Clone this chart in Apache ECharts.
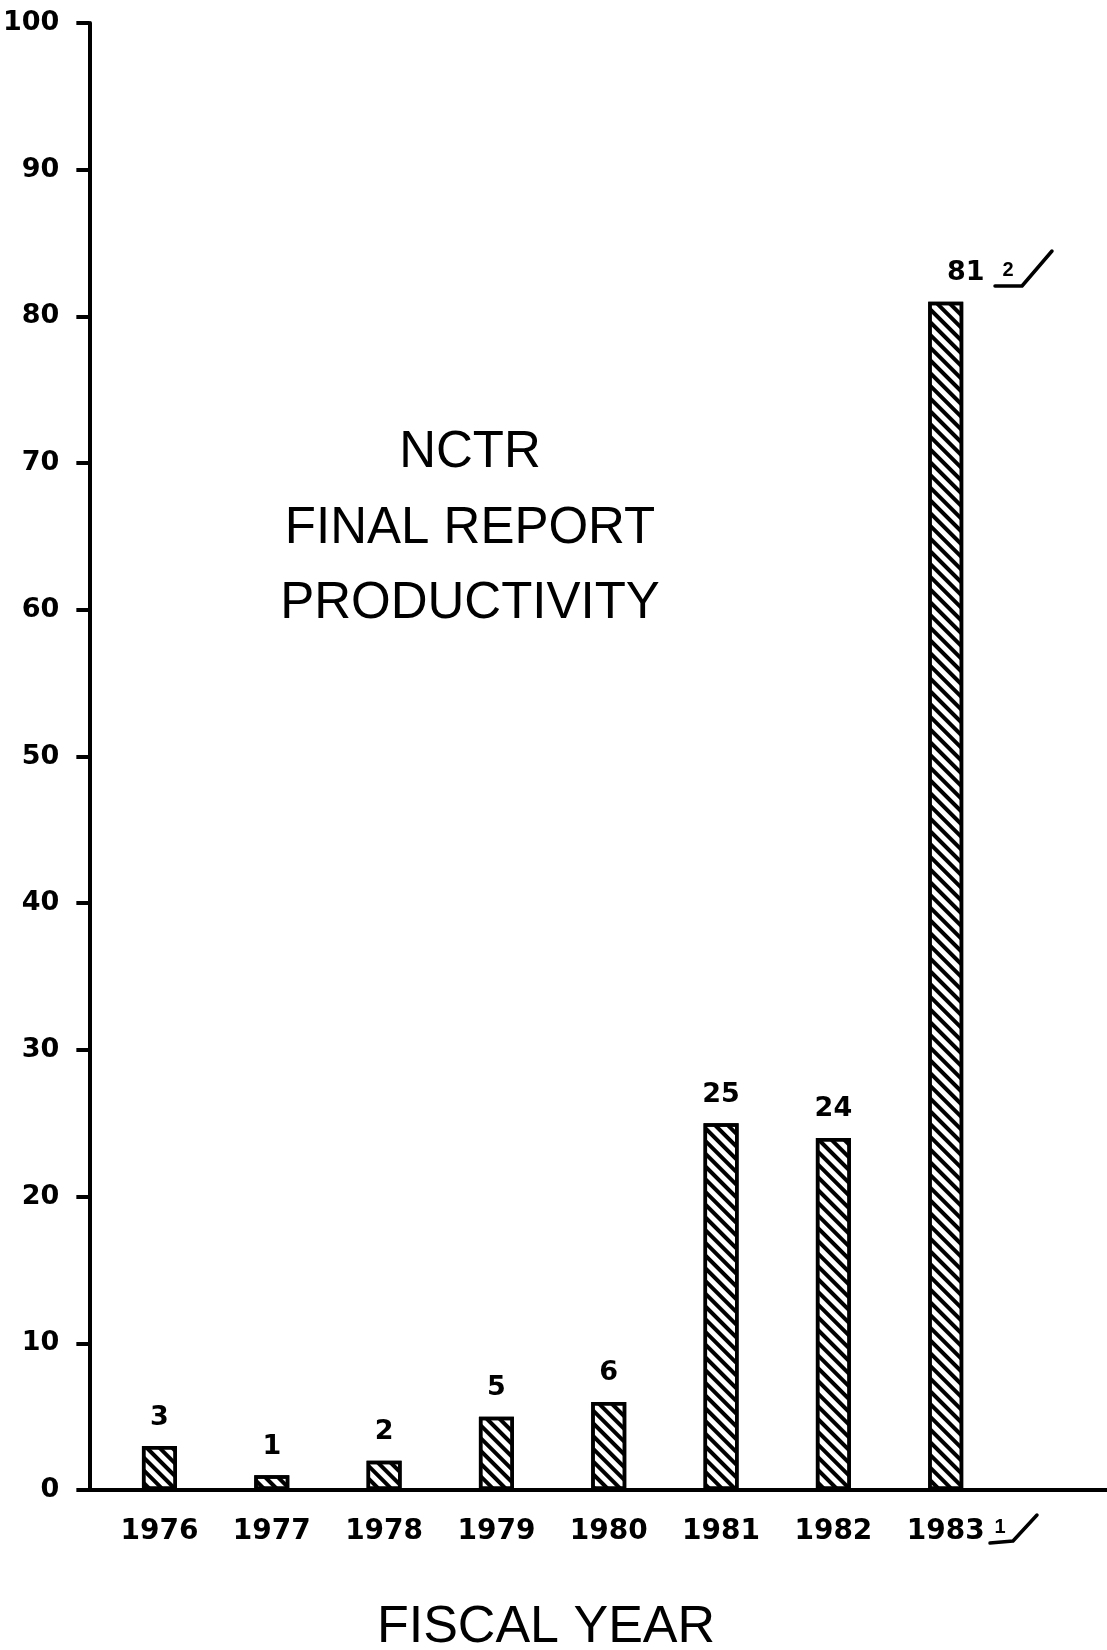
<!DOCTYPE html>
<html>
<head>
<meta charset="utf-8">
<script src="https://cdn.jsdelivr.net/npm/echarts@6/dist/echarts.min.js"></script>
<style>
    html, body { margin: 0; padding: 0; background: #fff; }
    #reportChart { width: 1107px; height: 1650px; }
</style>
</head>
<body>
<div id="reportChart"></div>
<script>
// fiscal years and number of final reports
const fiscalYears = [1976, 1977, 1978, 1979, 1980, 1981, 1982, 1983];
const finalReports = [3, 1, 2, 5, 6, 25, 24, 81];
const titleLines = ['NCTR', 'FINAL REPORT', 'PRODUCTIVITY'];

const font = "'Liberation Sans', Arial, Helvetica, sans-serif";
const numFont = "'DejaVu Sans', 'Liberation Sans', sans-serif";

var myChart = echarts.init(document.getElementById('reportChart'));

// bar data, last bar label is pushed right like the original
const barData = fiscalYears.map(function (yr, i) {
    const item = { value: [yr, finalReports[i]] };
    if (i === fiscalYears.length - 1) {
        item.label = { offset: [20, 0] };
    }
    return item;
});

const options = {
    backgroundColor: '#fff',
    animation: false,
    grid: {
        left: 86,
        right: 0,
        top: 23,
        bottom: 160,
    },
    xAxis: {
        type: 'value',
        min: 1975.376,
        max: 1984.436,
        splitLine: { show: false },
        axisLine: {
            show: true,
            lineStyle: { color: '#000', width: 4, cap: 'round' }
        },
        axisTick: { show: false },
        axisLabel: {
            customValues: fiscalYears,
            color: '#000',
            fontFamily: numFont,
            fontSize: 28,
            fontWeight: 'bold',
            margin: 28,
            formatter: function (v) { return String(v); }
        }
    },
    yAxis: {
        type: 'value',
        min: 0,
        max: 100,
        interval: 10,
        splitLine: { show: false },
        axisLine: {
            show: true,
            lineStyle: { color: '#000', width: 4, cap: 'round' }
        },
        axisTick: {
            show: true,
            length: 13,
            lineStyle: { color: '#000', width: 4 }
        },
        axisLabel: {
            color: '#000',
            fontFamily: numFont,
            fontSize: 27,
            fontWeight: 'bold',
            margin: 30
        }
    },
    series: [
        {
            name: 'Final reports',
            type: 'bar',
            barWidth: 35,
            data: barData,
            itemStyle: {
                color: '#fff',
                borderColor: '#000',
                borderWidth: 3.5,
                decal: {
                    symbol: 'rect',
                    symbolSize: 1,
                    color: '#000',
                    dashArrayX: [1, 0],
                    dashArrayY: [3.5, 5],
                    rotation: Math.PI / 4
                }
            },
            label: {
                show: true,
                position: 'top',
                distance: 15,
                color: '#000',
                fontFamily: numFont,
                fontSize: 27,
                fontWeight: 'bold',
                formatter: function (p) { return p.value[1]; }
            }
        }
    ],
    graphic: [
        {
            type: 'text', x: 470, y: 453,
            style: { text: titleLines[0], fill: '#000', font: '51px ' + font, textAlign: 'center', textVerticalAlign: 'middle' }
        },
        {
            type: 'text', x: 470, y: 529,
            style: { text: titleLines[1], fill: '#000', font: '51px ' + font, textAlign: 'center', textVerticalAlign: 'middle' }
        },
        {
            type: 'text', x: 470, y: 604,
            style: { text: titleLines[2], fill: '#000', font: '51px ' + font, textAlign: 'center', textVerticalAlign: 'middle' }
        },
        {
            type: 'text', x: 546, y: 1628,
            style: { text: 'FISCAL YEAR', fill: '#000', font: '52px ' + font, textAlign: 'center', textVerticalAlign: 'middle' }
        },
        // footnote marks
        {
            type: 'text', x: 1008, y: 270,
            style: { text: '2', fill: '#000', font: 'bold 20px ' + font, textAlign: 'center', textVerticalAlign: 'middle' }
        },
        {
            type: 'polyline',
            shape: { points: [[995, 286], [1022, 286], [1052, 251]] },
            style: { stroke: '#000', lineWidth: 3.5, fill: null, lineCap: 'round', lineJoin: 'round' }
        },
        {
            type: 'text', x: 1000, y: 1527,
            style: { text: '1', fill: '#000', font: 'bold 20px ' + font, textAlign: 'center', textVerticalAlign: 'middle' }
        },
        {
            type: 'polyline',
            shape: { points: [[990, 1543], [1013, 1541], [1037, 1515]] },
            style: { stroke: '#000', lineWidth: 3.5, fill: null, lineCap: 'round', lineJoin: 'round' }
        }
    ]
};

myChart.setOption(options);
</script>
</body>
</html>
